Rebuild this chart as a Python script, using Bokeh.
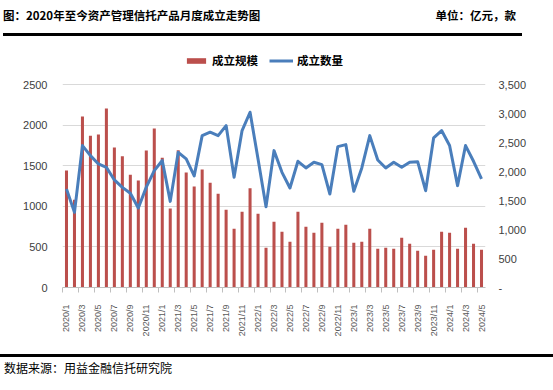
import math
from bokeh.plotting import figure
from bokeh.models import (Range1d, LinearAxis, FixedTicker, Legend, LegendItem,
                          ColumnDataSource, NumeralTickFormatter, Div)
from bokeh.layouts import column
from bokeh.embed import file_html
from bokeh.resources import INLINE

# ---------------- data ----------------
months = ["2020/1", "2020/2", "2020/3", "2020/4", "2020/5", "2020/6", "2020/7", "2020/8", "2020/9", "2020/10", "2020/11", "2020/12",
          "2021/1", "2021/2", "2021/3", "2021/4", "2021/5", "2021/6", "2021/7", "2021/8", "2021/9", "2021/10", "2021/11", "2021/12",
          "2022/1", "2022/2", "2022/3", "2022/4", "2022/5", "2022/6", "2022/7", "2022/8", "2022/9", "2022/10", "2022/11", "2022/12",
          "2023/1", "2023/2", "2023/3", "2023/4", "2023/5", "2023/6", "2023/7", "2023/8", "2023/9", "2023/10", "2023/11", "2023/12",
          "2024/1", "2024/2", "2024/3", "2024/4", "2024/5"]

# 成立规模 (亿元), left axis
scale = [1440, 1080, 2105, 1870, 1885, 2205, 1725, 1615, 1390, 1318, 1688, 1958,
         1597, 972, 1690, 1416, 1244, 1452, 1291, 1155, 958, 724, 933, 1221,
         909, 489, 810, 687, 563, 933, 748, 674, 798, 502, 724, 773,
         551, 563, 724, 477, 489, 477, 613, 539, 452, 391, 465, 687,
         674, 477, 736, 539, 465]

# 成立数量 (款), right axis
count = [1698, 1295, 2447, 2274, 2130, 2072, 1854, 1727, 1625, 1370, 1730, 2015,
         2190, 1485, 2331, 2216, 1925, 2619, 2677, 2619, 2792, 1900, 2706, 3022,
         2216, 1393, 2360, 1986, 1715, 2176, 2061, 2159, 2118, 1612, 2429, 2464,
         1658, 2061, 2619, 2199, 2061, 2159, 2072, 2159, 2170, 1669, 2579, 2706,
         2447, 1756, 2447, 2176, 1871]

left_ticks = [0, 500, 1000, 1500, 2000, 2500]
right_ticks = [0, 500, 1000, 1500, 2000, 2500, 3000, 3500]

title_text = "图：2020年至今资产管理信托产品月度成立走势图"
unit_text = "单位：亿元，款"
source_text = "数据来源：用益金融信托研究院"
series_names = ["成立规模", "成立数量"]

BAR_COLOR = "#bb4f4c"
LINE_COLOR = "#4a7ebb"
CJK = "Noto Sans CJK SC"
LAT = "Liberation Sans"
W = 553
HH, MH, FH = 40, 305, 45
FRAME_H, AXIS_H = 237, 203          # frame height; height of the 0..max tick span
TOP_L = left_ticks[-1] * FRAME_H / AXIS_H     # headroom above the top tick holds the legend
TOP_R = right_ticks[-1] * FRAME_H / AXIS_H

# ---------------- header (title, unit, rule) ----------------
header_html = (
    f'<div style="position:relative;width:{W}px;height:{HH}px;font-family:\'{CJK}\';'
    f'font-weight:bold;font-size:11.5px;line-height:16px;color:#000;">'
    f'<span style="position:absolute;left:3px;top:7px;white-space:nowrap;">{title_text}</span>'
    f'<span style="position:absolute;right:37px;top:7px;white-space:nowrap;">{unit_text}</span>'
    f'<div style="position:absolute;left:3px;top:33px;width:519px;height:3px;background:#000;"></div>'
    f'</div>')
header = Div(text=header_html, width=W, height=HH, margin=0)

# ---------------- main chart ----------------
src = ColumnDataSource(dict(i=list(range(len(months))), month=months, scale=scale, count=count))

p = figure(width=W, height=MH, x_range=Range1d(-0.5, len(months) - 0.5), y_range=Range1d(0, TOP_L),
           output_backend="svg", toolbar_location=None,
           min_border_left=62, min_border_right=68, min_border_top=MH - FRAME_H - 58, min_border_bottom=58,
           outline_line_color=None)
p.extra_y_ranges = {"cnt": Range1d(0, TOP_R)}

p.xgrid.visible = False
p.ygrid.ticker = FixedTicker(ticks=left_ticks)
p.ygrid.grid_line_color = "#d9d9d9"
p.ygrid.grid_line_width = 1

bars = p.vbar(x="i", top="scale", width=0.38, source=src, fill_color=BAR_COLOR, line_color=None)
line = p.line(x="i", y="count", source=src, y_range_name="cnt", line_width=3,
              line_color=LINE_COLOR, line_join="round")

# left axis
yl = p.yaxis[0]
yl.ticker = FixedTicker(ticks=left_ticks)
yl.axis_line_color = None
yl.major_tick_line_color = None
yl.minor_tick_line_color = None
yl.major_tick_out = 0
yl.minor_tick_out = 0
yl.major_label_standoff = 15
yl.major_label_text_font = LAT
yl.major_label_text_font_size = "11px"
yl.major_label_text_color = "#404040"

# right axis
yr = LinearAxis(y_range_name="cnt", ticker=FixedTicker(ticks=right_ticks),
                formatter=NumeralTickFormatter(format="0,0"))
yr.major_label_overrides = {0: "-"}
yr.axis_line_color = None
yr.major_tick_line_color = None
yr.minor_tick_line_color = None
yr.major_tick_out = 0
yr.minor_tick_out = 0
yr.major_label_standoff = 13
yr.major_label_text_font = LAT
yr.major_label_text_font_size = "11px"
yr.major_label_text_color = "#404040"
p.add_layout(yr, "right")

# bottom axis
xa = p.xaxis[0]
label_idx = list(range(0, len(months), 2))
xa.ticker = FixedTicker(ticks=label_idx, minor_ticks=[k - 0.5 for k in range(0, len(months) + 1, 2)])
xa.major_label_overrides = {k: months[k] for k in label_idx}
xa.axis_line_color = "#bfbfbf"
xa.major_tick_line_color = None
xa.major_tick_out = 0
xa.major_tick_in = 0
xa.minor_tick_line_color = "#bfbfbf"
xa.minor_tick_out = 5
xa.minor_tick_in = 0
xa.major_label_orientation = math.pi / 2
xa.major_label_standoff = 12
xa.major_label_text_font = LAT
xa.major_label_text_font_size = "9px"
xa.major_label_text_color = "#595959"

legend = Legend(items=[LegendItem(label=series_names[0], renderers=[bars]),
                       LegendItem(label=series_names[1], renderers=[line])],
                location=(122, 219), orientation="horizontal",
                padding=0, margin=0, spacing=11, label_standoff=4,
                glyph_width=24, glyph_height=7, label_height=14,
                border_line_color=None, background_fill_alpha=0,
                label_text_font=CJK, label_text_font_style="bold",
                label_text_font_size="11.5px", label_text_color="#000000")
p.add_layout(legend, "center")

# ---------------- footer ----------------
footer_html = (
    f'<div style="position:relative;width:{W}px;height:{FH}px;font-family:\'{CJK}\';'
    f'font-size:12px;line-height:16px;color:#000;">'
    f'<div style="position:absolute;left:0px;top:9px;width:{W}px;height:3px;background:#000;"></div>'
    f'<span style="position:absolute;left:4px;top:15px;white-space:nowrap;">{source_text}</span>'
    f'</div>')
footer = Div(text=footer_html, width=W, height=FH, margin=0)

layout = column(header, p, footer, spacing=0)
open("out.html", "w").write(file_html(layout, INLINE))
